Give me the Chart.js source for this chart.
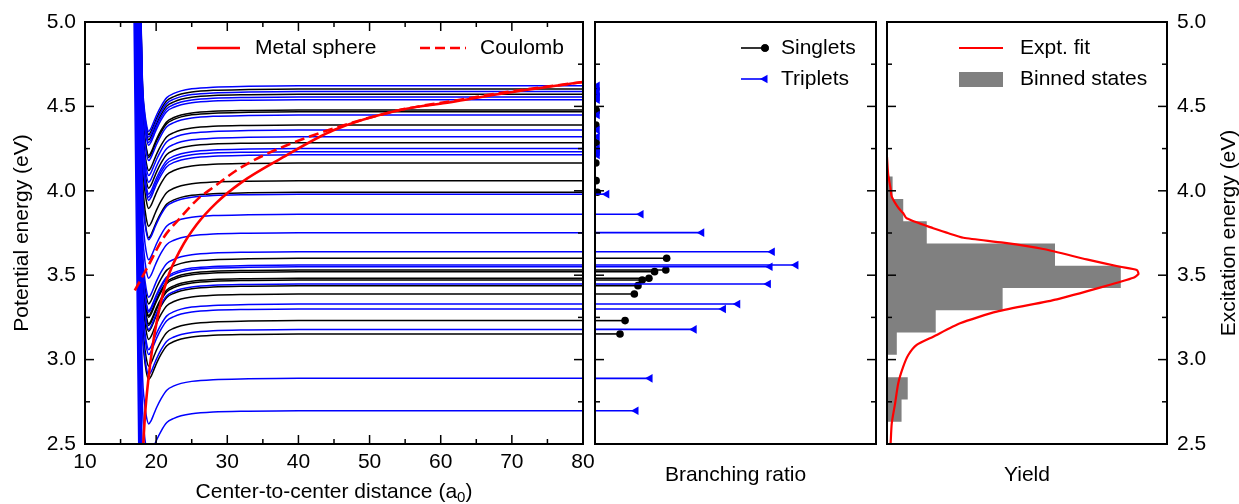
<!DOCTYPE html>
<html>
<head>
<meta charset="utf-8">
<script src="https://cdn.jsdelivr.net/npm/chart.js@4.4.1/dist/chart.umd.min.js"></script>
<style>
  html, body { margin: 0; padding: 0; background: #fff; }
  #wrap { position: relative; width: 1239px; height: 504px; }
  #wrap canvas { position: absolute; left: 0; top: 0; }
</style>
</head>
<body>
<div id="wrap">
  <canvas id="cPot" width="1239" height="504"></canvas>
  <canvas id="cBr" width="1239" height="504"></canvas>
  <canvas id="cYield" width="1239" height="504"></canvas>
</div>
<script>
// niveis assintoticos (eV) e razao de ramificacao
const singletE  = [4.603, 4.572, 4.479, 4.468, 4.390, 4.285, 4.165, 4.060, 3.991, 3.600, 3.531, 3.521, 3.482, 3.472, 3.438, 3.389, 3.231, 3.152];
const singletBR = [0.003, 0.003, 0.004, 0.004, 0.003, 0.004, 0.003, 0.004, 0.008, 0.255, 0.252, 0.212, 0.192, 0.168, 0.153, 0.140, 0.107, 0.089];
const tripletE  = [4.622, 4.588, 4.556, 4.540, 4.449, 4.360, 4.320, 4.250, 4.232, 4.213, 3.980, 3.861, 3.752, 3.639, 3.560, 3.550, 3.448, 3.329, 3.300, 3.179, 2.889, 2.697];
const tripletBR = [0.008, 0.008, 0.008, 0.008, 0.008, 0.008, 0.008, 0.008, 0.008, 0.008, 0.042, 0.164, 0.380, 0.631, 0.715, 0.623, 0.617, 0.508, 0.457, 0.353, 0.196, 0.146];
// tripletos abaixo da janela (so a parede aparece)
const tripletLowE = [1.0, 1.4, 1.8, 2.15, 2.4];

// forma comum das curvas: distancia (a0) e desvio do nivel assintotico (eV)
const profR  = [16.8, 17.0, 17.3, 17.6, 17.9, 18.1, 18.3, 18.6, 18.95, 19.3, 19.7, 20.1, 20.7, 21.5, 22.5, 23.5, 25, 28, 33, 40, 80];
const profDV = [4.4, 3.6, 2.5, 1.3, 0.35, 0.0, -0.12, -0.22, -0.27, -0.25, -0.21, -0.17, -0.12, -0.07, -0.045, -0.03, -0.018, -0.008, -0.003, 0, 0];

const sphereR  = [18.1, 18.2, 18.45, 18.9, 19.5, 20.3, 21.5, 23.4, 25.7, 28.5, 32, 37.5, 45, 54.4, 61.4, 68.5, 80];
const sphereE  = [2.40, 2.50, 2.68, 2.88, 3.08, 3.27, 3.47, 3.65, 3.80, 3.93, 4.05, 4.19, 4.36, 4.48, 4.525, 4.575, 4.645];
const coulombR = [17.0, 18.7, 21, 23.4, 25.7, 28, 32, 37.5, 45, 54.4, 61.4, 68.5, 80];
const coulombE = [3.41, 3.54, 3.72, 3.84, 3.945, 4.02, 4.14, 4.255, 4.37, 4.48, 4.53, 4.58, 4.645];

// histograma (bordas em eV) e ajuste experimental
const binEdges = [2.5, 2.632, 2.764, 2.896, 3.028, 3.16, 3.292, 3.424, 3.556, 3.688, 3.82, 3.952, 4.084];
const binYield = [0, 0.052, 0.074, 0, 0.035, 0.174, 0.413, 0.835, 0.60, 0.142, 0.058, 0.020];
const fitX = [0.0, 0.004, 0.012, 0.017, 0.040, 0.058, 0.070, 0.165, 0.213, 0.273, 0.415, 0.558, 0.713, 0.832, 0.892, 0.898, 0.880, 0.773, 0.607, 0.392, 0.261, 0.165, 0.106, 0.076, 0.058, 0.040, 0.029, 0.017, 0.013];
const fitE = [4.20, 4.10, 4.02, 3.965, 3.90, 3.867, 3.837, 3.778, 3.752, 3.722, 3.693, 3.655, 3.594, 3.55, 3.531, 3.507, 3.485, 3.432, 3.357, 3.284, 3.215, 3.136, 3.087, 3.027, 2.958, 2.859, 2.741, 2.623, 2.504];

// eixos
const yMajor = [2.5, 3.0, 3.5, 4.0, 4.5, 5.0];
const yMinor = [2.75, 3.25, 3.75, 4.25, 4.75];
const yTickLabels = ['2.5', '3.0', '3.5', '4.0', '4.5', '5.0'];
const xMajor = [10, 20, 30, 40, 50, 60, 70, 80];
const xMinor = [15, 25, 35, 45, 55, 65, 75];
const xTickLabels = ['10', '20', '30', '40', '50', '60', '70', '80'];

const FONT = "'Liberation Sans', Arial, Helvetica, sans-serif";
const RED = '#ff0000', BLUE = '#0000ff', GREY = '#808080';

function pts(xs, ys){ return xs.map((v, i) => ({x: v, y: ys[i]})); }
function curva(einf){ return profR.map((r, i) => ({x: r, y: einf + profDV[i]})); }

function ticks(ctx, a, scale, vals, len, side){
  vals.forEach(v => {
    const p = scale.getPixelForValue(v);
    ctx.beginPath();
    if (side === 'left')      { ctx.moveTo(a.left, p);  ctx.lineTo(a.left + len, p); }
    else if (side === 'right'){ ctx.moveTo(a.right, p); ctx.lineTo(a.right - len, p); }
    else if (side === 'top')  { ctx.moveTo(p, a.top);   ctx.lineTo(p, a.top + len); }
    else                      { ctx.moveTo(p, a.bottom); ctx.lineTo(p, a.bottom - len); }
    ctx.stroke();
  });
}
function texto(ctx, s, x, y, align, base){
  ctx.textAlign = align; ctx.textBaseline = base; ctx.fillText(s, x, y);
}
function textoV(ctx, s, x, y){
  ctx.save(); ctx.translate(x, y); ctx.rotate(-Math.PI / 2);
  texto(ctx, s, 0, 0, 'center', 'middle'); ctx.restore();
}
function moldura(ctx, a){
  ctx.lineWidth = 2; ctx.strokeStyle = '#000';
  ctx.strokeRect(a.left, a.top, a.right - a.left, a.bottom - a.top);
  ctx.lineWidth = 1.5;
}

function makeChart(id, datasets, xMin, xMax, pad, decor){
  return new Chart(document.getElementById(id), {
    type: 'scatter',
    data: { datasets },
    options: {
      responsive: false, animation: false, events: [],
      layout: { padding: pad },
      plugins: { legend: { display: false }, tooltip: { enabled: false } },
      scales: {
        x: { type: 'linear', min: xMin, max: xMax, display: false },
        y: { type: 'linear', min: 2.5, max: 5.0, display: false }
      }
    },
    plugins: [{ id: 'decor', afterDatasetsDraw: decor }]
  });
}

const linha = (data, color, w) => ({ data, showLine: true, borderColor: color, borderWidth: w,
  pointRadius: 0, cubicInterpolationMode: 'monotone', fill: false });

// ---------- painel 1: curvas de potencial
const potSets = [];
const sph = linha(pts(sphereR, sphereE), RED, 2.6);
const cou = linha(pts(coulombR, coulombE), RED, 2.6); cou.borderDash = [10, 5];
potSets.push(sph, cou);
tripletE.forEach(e => potSets.push(linha(curva(e), BLUE, 1.5)));
tripletLowE.forEach(e => potSets.push(linha(curva(e), BLUE, 1.5)));
singletE.forEach(e => potSets.push(linha(curva(e), '#000', 1.5)));

makeChart('cPot', potSets, 10, 80, { left: 85, right: 656, top: 22, bottom: 60 }, chart => {
  const { ctx, chartArea: a, scales: { x, y } } = chart;
  ctx.save();
  moldura(ctx, a);
  ticks(ctx, a, y, yMajor, 9, 'left');  ticks(ctx, a, y, yMinor, 5, 'left');
  ticks(ctx, a, y, yMajor, 9, 'right'); ticks(ctx, a, y, yMinor, 5, 'right');
  ticks(ctx, a, x, xMajor, 9, 'top');   ticks(ctx, a, x, xMinor, 5, 'top');
  ticks(ctx, a, x, xMajor, 9, 'bottom'); ticks(ctx, a, x, xMinor, 5, 'bottom');
  ctx.fillStyle = '#000'; ctx.font = '21px ' + FONT;
  yMajor.forEach((v, i) => texto(ctx, yTickLabels[i], a.left - 9, y.getPixelForValue(v), 'right', 'middle'));
  xMajor.forEach((v, i) => texto(ctx, xTickLabels[i], x.getPixelForValue(v), a.bottom + 8, 'center', 'top'));
  textoV(ctx, 'Potential energy (eV)', 22, (a.top + a.bottom) / 2);
  // titulo com subscrito
  const t1 = 'Center-to-center distance (a', t2 = '0', t3 = ')';
  ctx.font = '21px ' + FONT; const w1 = ctx.measureText(t1).width, w3 = ctx.measureText(t3).width;
  ctx.font = '15px ' + FONT; const w2 = ctx.measureText(t2).width;
  let sx = (a.left + a.right) / 2 - (w1 + w2 + w3) / 2;
  ctx.font = '21px ' + FONT; texto(ctx, t1, sx, 492, 'left', 'middle');
  ctx.font = '15px ' + FONT; texto(ctx, t2, sx + w1, 498, 'left', 'middle');
  ctx.font = '21px ' + FONT; texto(ctx, t3, sx + w1 + w2, 492, 'left', 'middle');
  // legenda
  ctx.strokeStyle = RED; ctx.lineWidth = 2.6;
  ctx.beginPath(); ctx.moveTo(197, 48); ctx.lineTo(240, 48); ctx.stroke();
  ctx.setLineDash([10, 5]);
  ctx.beginPath(); ctx.moveTo(420, 48); ctx.lineTo(466, 48); ctx.stroke();
  ctx.setLineDash([]);
  texto(ctx, 'Metal sphere', 255, 48, 'left', 'middle');
  texto(ctx, 'Coulomb', 480, 48, 'left', 'middle');
  ctx.restore();
});

// ---------- painel 2: razao de ramificacao
const brSets = [];
tripletE.forEach((e, i) => brSets.push({
  data: [{x: 0, y: e}, {x: tripletBR[i], y: e}], showLine: true,
  borderColor: BLUE, borderWidth: 1.6, backgroundColor: BLUE,
  pointRadius: [0, 5], pointStyle: 'triangle', rotation: -90, pointBorderWidth: 0
}));
singletE.forEach((e, i) => brSets.push({
  data: [{x: 0, y: e}, {x: singletBR[i], y: e}], showLine: true,
  borderColor: '#000', borderWidth: 1.6, backgroundColor: '#000',
  pointRadius: [0, 3.8], pointStyle: 'circle', pointBorderWidth: 0
}));

makeChart('cBr', brSets, 0, 1, { left: 595, right: 363, top: 22, bottom: 60 }, chart => {
  const { ctx, chartArea: a, scales: { y } } = chart;
  ctx.save();
  moldura(ctx, a);
  ticks(ctx, a, y, yMajor, 9, 'left');  ticks(ctx, a, y, yMinor, 5, 'left');
  ticks(ctx, a, y, yMajor, 9, 'right'); ticks(ctx, a, y, yMinor, 5, 'right');
  ctx.fillStyle = '#000'; ctx.font = '21px ' + FONT;
  texto(ctx, 'Branching ratio', (a.left + a.right) / 2, 475, 'center', 'middle');
  // legenda
  ctx.lineWidth = 1.6;
  ctx.strokeStyle = '#000';
  ctx.beginPath(); ctx.moveTo(741, 48); ctx.lineTo(765, 48); ctx.stroke();
  Chart.helpers.drawPoint(ctx, { pointStyle: 'circle', radius: 3.8, rotation: 0, borderWidth: 0 }, 765, 48);
  ctx.fillStyle = '#000'; ctx.fill();
  ctx.strokeStyle = BLUE; ctx.fillStyle = BLUE;
  ctx.beginPath(); ctx.moveTo(741, 79); ctx.lineTo(765, 79); ctx.stroke();
  Chart.helpers.drawPoint(ctx, { pointStyle: 'triangle', radius: 5, rotation: -90, borderWidth: 0 }, 765, 79);
  ctx.fillStyle = '#000';
  texto(ctx, 'Singlets', 781, 48, 'left', 'middle');
  texto(ctx, 'Triplets', 781, 79, 'left', 'middle');
  ctx.restore();
});

// ---------- painel 3: rendimento
const histPts = [{x: 0, y: binEdges[0]}];
binYield.forEach((v, i) => histPts.push({x: v, y: binEdges[i]}, {x: v, y: binEdges[i + 1]}));
histPts.push({x: 0, y: binEdges[binEdges.length - 1]});

const yieldSets = [
  { data: pts(fitX, fitE), showLine: true, borderColor: RED, borderWidth: 2.2, pointRadius: 0, tension: 0.2, fill: false },
  { data: histPts, showLine: true, borderColor: 'rgba(0,0,0,0)', borderWidth: 0, pointRadius: 0,
    backgroundColor: GREY, fill: 'shape', tension: 0 }
];

makeChart('cYield', yieldSets, 0, 1, { left: 887, right: 72, top: 22, bottom: 60 }, chart => {
  const { ctx, chartArea: a, scales: { y } } = chart;
  ctx.save();
  moldura(ctx, a);
  ticks(ctx, a, y, yMajor, 9, 'left');  ticks(ctx, a, y, yMinor, 5, 'left');
  ticks(ctx, a, y, yMajor, 9, 'right'); ticks(ctx, a, y, yMinor, 5, 'right');
  ctx.fillStyle = '#000'; ctx.font = '21px ' + FONT;
  yMajor.forEach((v, i) => texto(ctx, yTickLabels[i], a.right + 10, y.getPixelForValue(v), 'left', 'middle'));
  texto(ctx, 'Yield', (a.left + a.right) / 2, 475, 'center', 'middle');
  textoV(ctx, 'Excitation energy (eV)', 1229, (a.top + a.bottom) / 2);
  // legenda
  ctx.strokeStyle = RED; ctx.lineWidth = 2.2;
  ctx.beginPath(); ctx.moveTo(959, 48); ctx.lineTo(1003, 48); ctx.stroke();
  ctx.fillStyle = GREY; ctx.fillRect(959, 72, 44, 15);
  ctx.fillStyle = '#000';
  texto(ctx, 'Expt. fit', 1020, 48, 'left', 'middle');
  texto(ctx, 'Binned states', 1020, 79, 'left', 'middle');
  ctx.restore();
});
</script>
</body>
</html>
